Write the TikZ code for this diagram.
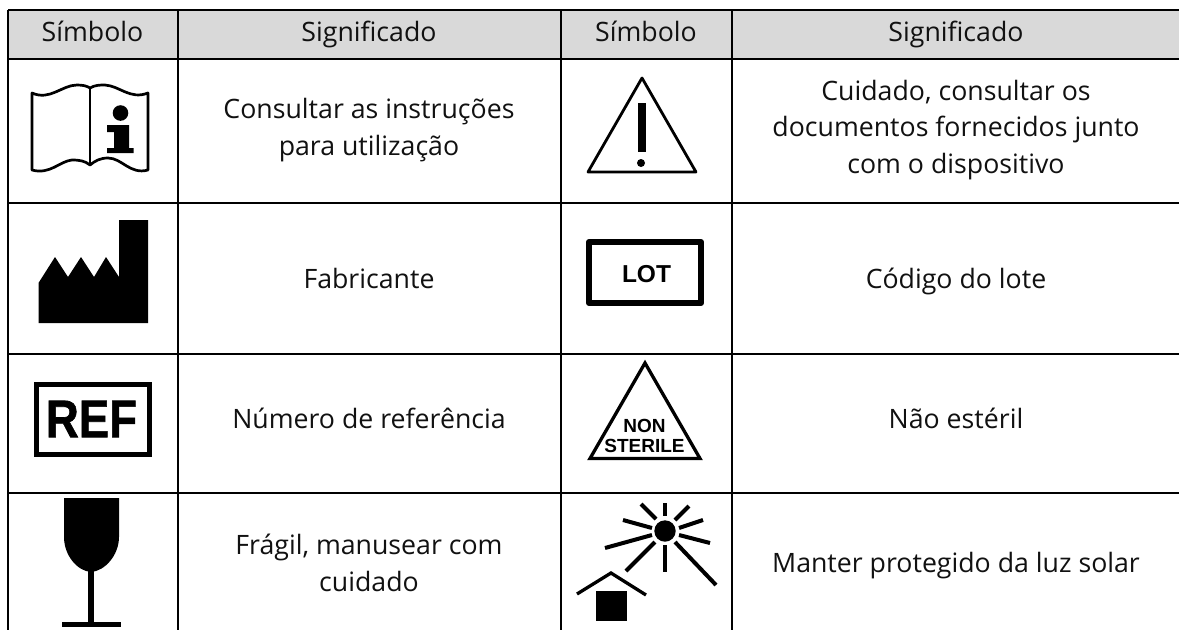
\documentclass[tikz,border=0pt]{standalone}
\usepackage{fontspec}
\setmainfont{Open Sans}
\newfontfamily\symfont{Liberation Sans}[Scale=1]
\newfontfamily\reffont{Liberation Sans}[Scale=1,FakeBold=1.2,BoldFont={Liberation Sans Bold}]
\definecolor{headgray}{HTML}{D9D9D9}
\definecolor{inktext}{HTML}{111111}
\tikzset{
  x=1pt,y=-1pt,
  gridline/.style={line width=1.9pt,black},
  ink/.style={fill=black,draw=none},
  symline/.style={draw=black,line join=miter},
  celltext/.style={anchor=base,align=center,font=\fontsize{26.7}{36.3}\selectfont,text=inktext,inner sep=0pt},
}
\begin{document}
\begin{tikzpicture}
\useasboundingbox (0,0) rectangle (1179,630);
\fill[white] (0,0) rectangle (1179,630);
% header fill
\fill[headgray] (8,10) rectangle (1179,59);
% grid
\foreach \xx in {8,178,561,732} \draw[gridline] (\xx,10) -- (\xx,630);
\foreach \yy in {10,59,203,354,493} \draw[gridline] (8,\yy) -- (1179,\yy);
% header
\node[celltext] (h1) at (92.5,41) {Símbolo};
\node[celltext] (h2) at (369,41) {Significado};
\node[celltext] (h3) at (646,41) {Símbolo};
\node[celltext] (h4) at (956,41) {Significado};
% text
\node[celltext] (t1) at (369,155) {Consultar as instruções\\para utilização};
\node[celltext] (t2) at (956,173) {Cuidado, consultar os\\documentos fornecidos junto\\com o dispositivo};
\node[celltext] (t3) at (369,288) {Fabricante};
\node[celltext] (t4) at (956,288) {Código do lote};
\node[celltext] (t5) at (369,428) {Número de referência};
\node[celltext] (t6) at (956,428) {Não estéril};
\node[celltext] (t7) at (369,591) {Frágil, manusear com\\cuidado};
\node[celltext] (t8) at (956,572) {Manter protegido da luz solar};
% book icon
\draw[symline,line width=2.7pt,line join=round] (32,93) .. controls (50,101) and (62,85) .. (77,85) .. controls (83,85) and (87,86) .. (90,88)
 .. controls (95,85) and (100,85) .. (105,85) .. controls (120,86) and (130,100) .. (148,93) -- (148,170)
 .. controls (130,175) and (122,158) .. (108,158) .. controls (100,158) and (95,161) .. (90,165)
 .. controls (85,161) and (80,160) .. (72,160) .. controls (60,161) and (50,175) .. (32,170) -- cycle;
\draw[symline,line width=2.7pt] (90,88) -- (90,165);
\fill (120.5,113) circle (7.8);
\path[ink] (107,125) -- (129,125) -- (129,148) -- (133.5,148) -- (133.5,153) -- (107,153) -- (107,148) -- (114,148) -- (114,132) -- (107,132) -- cycle;
% warning
\draw[symline,line width=2.8pt,line join=round] (642,78) -- (696,172) -- (588,172) -- cycle;
\fill (638,103) rectangle (646,152);
\fill (641,163) circle (4);
% factory
\path[ink] (38.5,283) -- (55,257) -- (68,277) -- (81,257) -- (94,277) -- (106,257) -- (119,277) -- (119,220) -- (148,220) -- (148,323) -- (38.5,323) -- cycle;
% LOT
\draw[symline,line width=6pt,line join=round] (589,242) rectangle (701,303);
\node[inner sep=0pt,font=\symfont\fontsize{24.5}{24.5}\selectfont\bfseries] (lot) at (646.5,274) {LOT};
% REF
\draw[symline,line width=5pt] (36,384.5) rectangle (149.5,454.5);
\node[inner sep=0pt,xscale=.86,font=\reffont\fontsize{53}{53}\selectfont\bfseries] (ref) at (91.5,419) {REF};
% NON STERILE
\draw[symline,line width=3.3pt,line join=miter] (645,363) -- (700,458.5) -- (590,458.5) -- cycle;
\node[inner sep=0pt,align=center,font=\symfont\fontsize{19}{19.5}\selectfont\bfseries] (nons) at (644.5,436) {NON\\STERILE};
% glass
\path[ink] (64,498) -- (119,498) -- (119,537) .. controls (119,555) and (105,571) .. (91,572) .. controls (77,571) and (64,555) .. (64,537) -- cycle;
\fill (88,570) rectangle (94,624);
\fill (62,622) rectangle (121,627);
% sun
\fill (665,531) circle (10.7);
\foreach \a/\b/\c/\d in {665/503/665/516, 641/504/656/519, 689/506/675/520, 623/520/652/528, 703/520/679/528, 605/548/652/535, 710/543/679/535, 626/571/655/542, 665/545/665/572, 675/542/716/585}
  \draw[line width=4pt] (\a,\b) -- (\c,\d);
% house
\draw[symline,line width=3.3pt] (577,594) -- (611,573) -- (646,595);
\fill (596,591) rectangle (627,621);
\end{tikzpicture}
\end{document}
